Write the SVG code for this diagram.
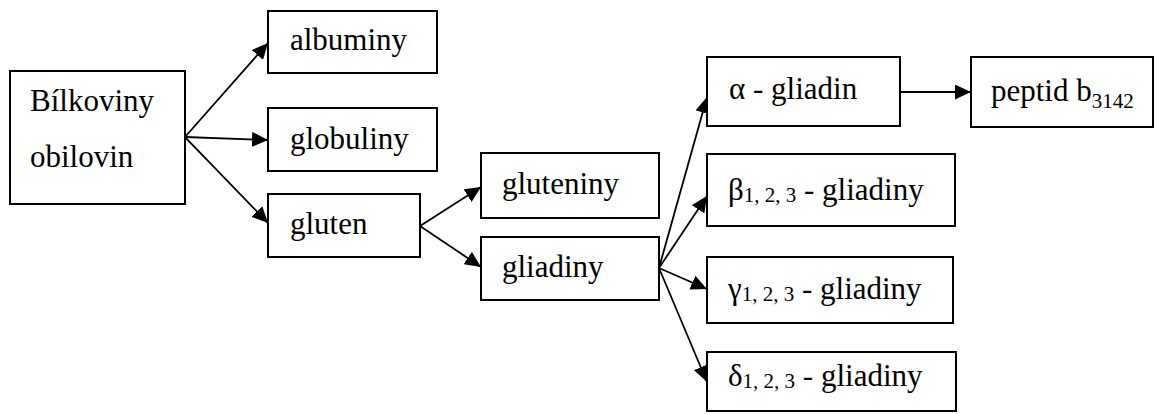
<svg xmlns="http://www.w3.org/2000/svg" width="1158" height="414" viewBox="0 0 1158 414">
<defs>
<style>
.box{fill:#fff;stroke:#000;stroke-width:2}
text{font-family:'Liberation Serif','Times New Roman',serif;font-size:31px;fill:#000}
.s{font-size:21px}
.c line{stroke:#000;stroke-width:1.8;marker-end:url(#ah)}
</style>
<marker id="ah" markerUnits="userSpaceOnUse" markerWidth="16" markerHeight="15" refX="16" refY="7.5" orient="auto">
<path d="M0,0 L16,7.5 L0,15 z" fill="#000"/>
</marker>
</defs>
<rect width="1158" height="414" fill="#fff"/>
<g class="c" id="connectors">
<line x1="185" y1="137" x2="268" y2="43"/>
<line x1="185" y1="137" x2="268" y2="140"/>
<line x1="185" y1="137" x2="268" y2="223"/>
<line x1="420" y1="226" x2="481" y2="187"/>
<line x1="420" y1="226" x2="481" y2="267"/>
<line x1="659" y1="268" x2="707" y2="97"/>
<line x1="659" y1="268" x2="707" y2="196"/>
<line x1="659" y1="268" x2="707" y2="289"/>
<line x1="659" y1="268" x2="707" y2="382"/>
<line x1="900" y1="92" x2="971" y2="92"/>
</g>
<g id="bilkoviny"><rect class="box" x="10" y="71" width="175" height="133"/><text x="30" y="111">Bílkoviny</text><text x="30" y="167">obilovin</text></g>
<g id="albuminy"><rect class="box" x="268" y="11" width="169" height="62"/><text x="290" y="50">albuminy</text></g>
<g id="globuliny"><rect class="box" x="268" y="108" width="169" height="63"/><text x="290" y="149">globuliny</text></g>
<g id="gluten"><rect class="box" x="268" y="194" width="152" height="63"/><text x="290" y="234">gluten</text></g>
<g id="gluteniny"><rect class="box" x="481" y="153" width="178" height="65"/><text x="502" y="194">gluteniny</text></g>
<g id="gliadiny"><rect class="box" x="481" y="237" width="178" height="63"/><text x="502" y="277">gliadiny</text></g>
<g id="alpha"><rect class="box" x="707" y="57" width="193" height="69"/><text x="729" y="99">α - gliadin</text></g>
<g id="peptid"><rect class="box" x="971" y="57" width="182" height="70"/><text x="991" y="101">peptid b<tspan class="s" dy="7">3142</tspan></text></g>
<g id="beta"><rect class="box" x="707" y="154" width="248" height="72"/><text x="728" y="200">β<tspan class="s" dy="2">1, 2, 3</tspan><tspan dy="-2"> - gliadiny</tspan></text></g>
<g id="gamma"><rect class="box" x="707" y="257" width="246" height="66"/><text x="728" y="299">γ<tspan class="s" dy="2">1, 2, 3</tspan><tspan dy="-2"> - gliadiny</tspan></text></g>
<g id="delta"><rect class="box" x="707" y="352" width="249" height="59"/><text x="728" y="386">δ<tspan class="s" dy="2">1, 2, 3</tspan><tspan dy="-2"> - gliadiny</tspan></text></g>
</svg>
